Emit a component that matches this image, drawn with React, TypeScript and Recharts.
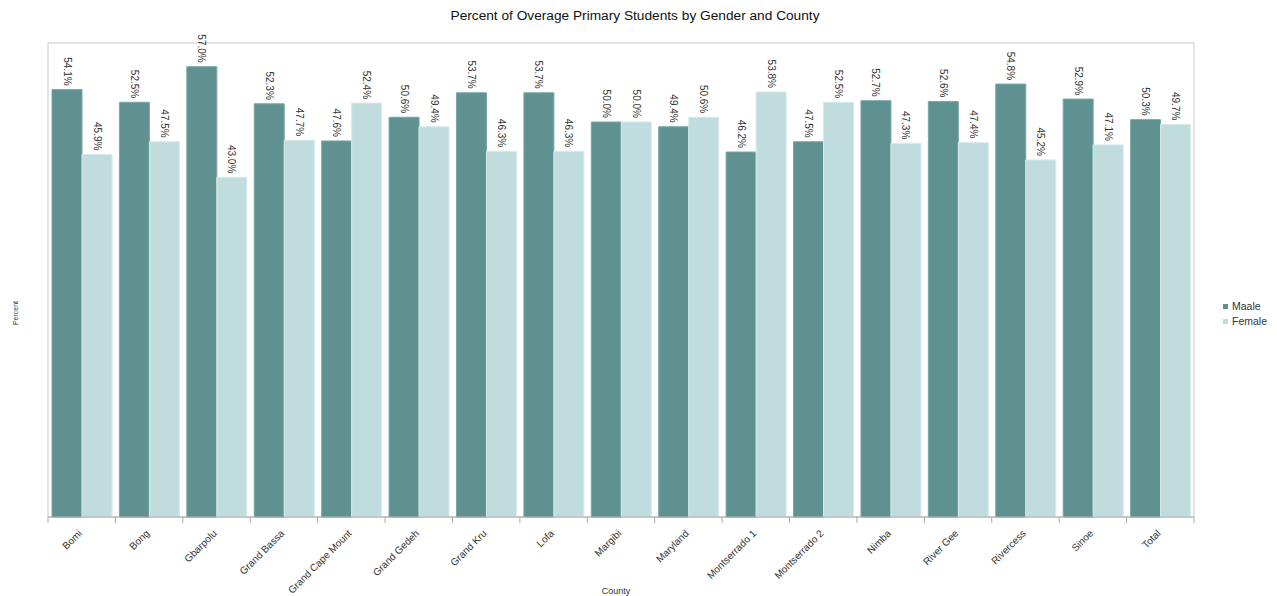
import React from "react";
import { BarChart, Bar, XAxis, YAxis, ReferenceArea, LabelList } from "recharts";

const counties = [
  "Bomi", "Bong", "Gbarpolu", "Grand Bassa", "Grand Cape Mount", "Grand Gedeh",
  "Grand Kru", "Lofa", "Margibi", "Maryland", "Montserrado 1", "Montserrado 2",
  "Nimba", "River Gee", "Rivercess", "Sinoe", "Total",
];
const maleValues = [54.1, 52.5, 57.0, 52.3, 47.6, 50.6, 53.7, 53.7, 50.0, 49.4, 46.2, 47.5, 52.7, 52.6, 54.8, 52.9, 50.3];
const femaleValues = [45.9, 47.5, 43.0, 47.7, 52.4, 49.4, 46.3, 46.3, 50.0, 50.6, 53.8, 52.5, 47.3, 47.4, 45.2, 47.1, 49.7];
const seriesNames = ["Maale", "Female"];

const MALE = "#5f9191";
const FEMALE = "#c1dcdf";
const FONT = "'Liberation Sans', Arial, sans-serif";

const data = counties.map((c, i) => ({ county: c, male: maleValues[i], female: femaleValues[i] }));

const ValueLabel = (props: any) => {
  const { x, y, width, value } = props;
  const cx = x + width / 2;
  const ty = y - 4;
  return (
    <text
      x={cx}
      y={ty}
      transform={`rotate(90, ${cx}, ${ty})`}
      textAnchor="end"
      dominantBaseline="central"
      fontSize={10}
      fontFamily={FONT}
      fill="#333"
    >
      {Number(value).toFixed(1)}%
    </text>
  );
};

const CountyTick = (props: any) => {
  const { x, y, payload, index } = props;
  const off = payload && payload.offset ? payload.offset : 33.7;
  const axisY = y - 8;
  const ax = x + 1;
  const ay = y + 9;
  return (
    <g>
      <line x1={x - off} y1={axisY} x2={x - off} y2={axisY + 6} stroke="#aaa" />
      {index === counties.length - 1 && (
        <line x1={x + off} y1={axisY} x2={x + off} y2={axisY + 6} stroke="#aaa" />
      )}
      <text
        x={ax}
        y={ay}
        transform={`rotate(-45, ${ax}, ${ay})`}
        textAnchor="end"
        fontSize={10}
        fontFamily={FONT}
        fill="#333"
      >
        {payload.value}
      </text>
    </g>
  );
};

export default function App() {
  return (
    <div style={{ position: "absolute", left: 0, top: 0, width: 1277, height: 596, background: "#fff", fontFamily: FONT }}>
      <div style={{ position: "absolute", top: 8, left: 0, width: 1270, textAlign: "center", fontSize: 13.7, color: "#111" }}>
        Percent of Overage Primary Students by Gender and County
      </div>
      <BarChart
        width={1277}
        height={596}
        data={data}
        margin={{ top: 43, right: 83, bottom: 49, left: 48 }}
        barCategoryGap={4}
        barGap={0}
      >
        <ReferenceArea y1={0} y2={60} fill="none" stroke="#c8c8c8" ifOverflow="visible" />
        <XAxis
          dataKey="county"
          height={30}
          interval={0}
          tickLine={false}
          axisLine={{ stroke: "#aaa" }}
          tick={<CountyTick />}
        />
        <YAxis hide domain={[0, 60]} />
        <Bar dataKey="male" name={seriesNames[0]} fill={MALE} stroke="#78a8a8" isAnimationActive={false}>
          <LabelList dataKey="male" content={<ValueLabel />} />
        </Bar>
        <Bar dataKey="female" name={seriesNames[1]} fill={FEMALE} stroke="#d8eaec" isAnimationActive={false}>
          <LabelList dataKey="female" content={<ValueLabel />} />
        </Bar>
      </BarChart>
      <div style={{ position: "absolute", left: 14.5, top: 313, width: 0, height: 0 }}>
        <div style={{ position: "absolute", fontSize: 7, color: "#333", whiteSpace: "nowrap", transform: "translate(-50%, -50%) rotate(-90deg)" }}>
          Percent
        </div>
      </div>
      <div style={{ position: "absolute", left: 616, top: 591, width: 0, height: 0 }}>
        <div style={{ position: "absolute", fontSize: 9, color: "#333", whiteSpace: "nowrap", transform: "translate(-50%, -50%)" }}>
          County
        </div>
      </div>
      <div style={{ position: "absolute", left: 1223, top: 299, fontSize: 10.5, color: "#333", lineHeight: "15px" }}>
        {seriesNames.map((n, i) => (
          <div key={n} style={{ display: "flex", alignItems: "center" }}>
            <span style={{ display: "inline-block", width: 5, height: 5, background: i === 0 ? MALE : FEMALE, marginRight: 4 }} />
            {n}
          </div>
        ))}
      </div>
    </div>
  );
}
